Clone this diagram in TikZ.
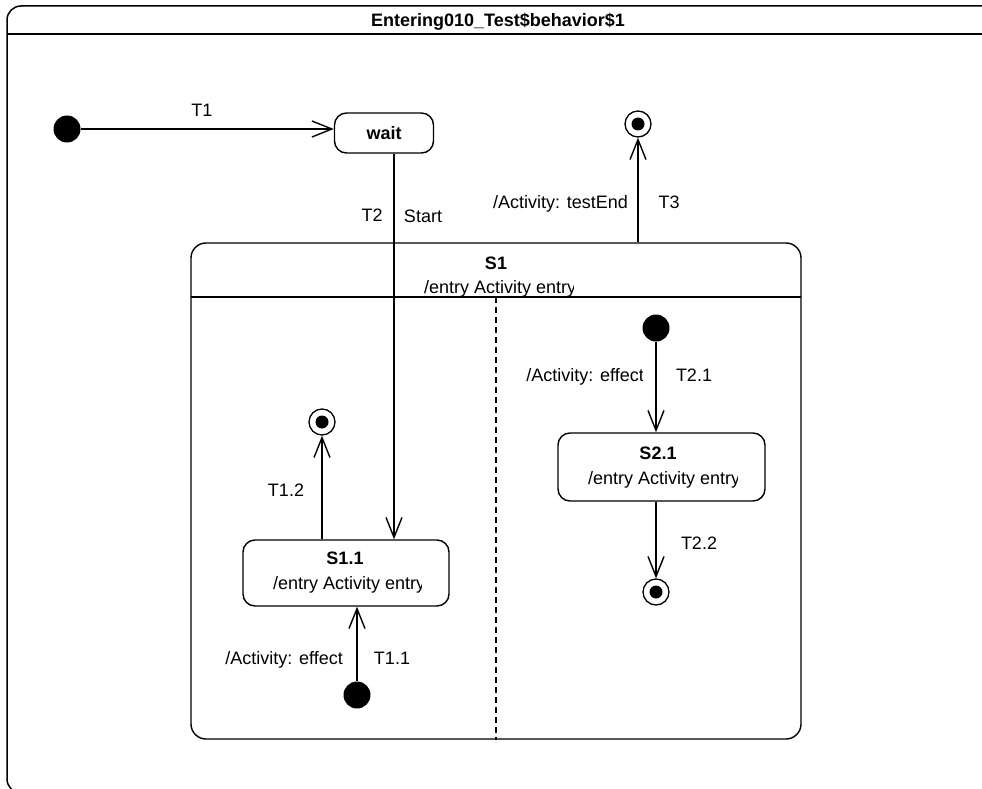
\documentclass[tikz,border=0pt]{standalone}
\usepackage{fontspec}
\setmainfont{Liberation Sans}
\usetikzlibrary{arrows.meta}
\begin{document}
\begin{tikzpicture}[x=1pt,y=-1pt,
  lbl/.style={font=\fontsize{18}{20}\selectfont, inner sep=0pt, text height=13pt, text depth=0pt},
  blbl/.style={lbl, font=\fontsize{18}{20}\selectfont\bfseries},
  st/.style={draw, line width=1.4pt, rounded corners=12pt, inner sep=0pt},
  ini/.style={circle, fill=black, minimum size=27pt, inner sep=0pt},
  fin/.style={circle, draw, line width=1.3pt, minimum size=26pt, inner sep=0pt,
    path picture={\fill (path picture bounding box.center) circle (6.5pt);}},
  tr/.style={line width=1.4pt, -{Straight Barb[length=20pt,width=16pt,line width=1.4pt]}},
  frame/.style={line width=1.5pt},
]
\useasboundingbox (0,0) rectangle (982,789);
\clip (0,0) rectangle (982,789);
\fill[white] (0,0) rectangle (982,789);

% outer frame
\draw[frame, rounded corners=14pt] (1000,6) -- (7,6) -- (7,793) -- (1000,793);
\draw[frame] (7,34) -- (1000,34);
\node[blbl] (title) at (498,20) {Entering010\_Test\$behavior\$1};

% top level
\node[ini] (i0) at (67,129) {};
\node[st, minimum width=99pt, minimum height=40pt, font=\fontsize{18}{20}\selectfont\bfseries] (wait) at (384,133) {wait};
\node[fin] (f0) at (638,124) {};

% composite S1
\node[st, rounded corners=15pt, minimum width=610pt, minimum height=496pt] (S1) at (496,491) {};
\coordinate (sepL) at (191,297);
\coordinate (sepR) at (801,297);
\draw[line width=1.4pt] (sepL) -- (sepR);
\coordinate (dashT) at (496,297);
\draw[line width=1.1pt, dash pattern=on 6pt off 4pt] (dashT) -- (S1.south);
\node[blbl] (S1t) at (496,263) {S1};
\begin{scope}
  \clip (420,270) rectangle (573,300);
  \node[lbl, anchor=west] (S1e) at (424,287) {/entry Activity entry};
\end{scope}

% left region
\node[fin] (f1) at (322,422) {};
\node[st, minimum width=206pt, minimum height=66pt] (s11) at (346,573) {};
\node[blbl] (s11t) at (345,558) {S1.1};
\begin{scope}
  \clip (260,565) rectangle (421,600);
  \node[lbl, anchor=west] (s11e) at (273,583) {/entry Activity entry};
\end{scope}
\node[ini] (i1) at (357,695) {};

% right region
\node[ini] (i2) at (656,328) {};
\node[st, minimum width=207pt, minimum height=68pt] (s21) at (661.5,467) {};
\node[blbl] (s21t) at (658,453) {S2.1};
\begin{scope}
  \clip (575,460) rectangle (737,495);
  \node[lbl, anchor=west] (s21e) at (588,478) {/entry Activity entry};
\end{scope}
\node[fin] (f2) at (656,592) {};

% transitions
\draw[tr] (i0) -- (i0 -| wait.west);
\node[lbl] (T1) at (202,110) {T1};

\coordinate (x2) at (394,0);
\draw[tr] (wait.south -| x2) -- (s11.north -| x2);
\node[lbl] (T2) at (372,215) {T2};
\node[lbl] (Start) at (423,216) {Start};

\draw[tr] (S1.north -| f0) -- (f0.south);
\node[lbl, anchor=east] (T3e) at (628,202) {/Activity: testEnd};
\node[lbl] (T3) at (669,202) {T3};

\draw[tr] (s11.north -| f1) -- (f1.south);
\node[lbl] (T12) at (286,490) {T1.2};

\draw[tr] (i1) -- (s11.south -| i1);
\node[lbl, anchor=east] (T11e) at (343,658) {/Activity: effect};
\node[lbl] (T11) at (392,658) {T1.1};

\draw[tr] (i2) -- (s21.north -| i2);
\begin{scope}
  \clip (500,360) rectangle (642,392);
  \node[lbl, anchor=east] (T21e) at (644,375) {/Activity: effect};
\end{scope}
\node[lbl] (T21) at (694,375) {T2.1};

\draw[tr] (s21.south -| f2) -- (f2.north);
\node[lbl] (T22) at (699,543) {T2.2};
\end{tikzpicture}
\end{document}
